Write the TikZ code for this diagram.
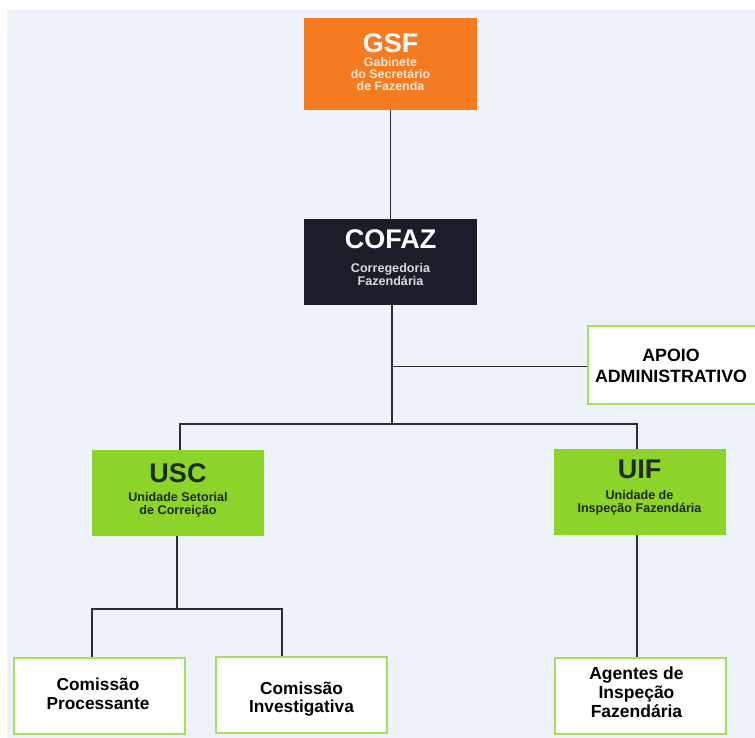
\documentclass[tikz,border=0pt]{standalone}
\usepackage{fontspec}
\setmainfont{Liberation Sans}
\definecolor{bgc}{HTML}{EEF2FA}
\definecolor{gsfc}{HTML}{F47B20}
\definecolor{navy}{HTML}{1A1E2B}
\definecolor{lime}{HTML}{8DD42A}
\definecolor{limeb}{HTML}{A6DE62}
\definecolor{linec}{HTML}{2E2E30}
\definecolor{subgsf}{HTML}{FBE6D6}
\definecolor{subcof}{HTML}{D9DADC}
\definecolor{darkt}{HTML}{1E2A12}
\begin{document}
\begin{tikzpicture}[x=1pt,y=-1pt,
  topbox/.style={minimum width=173pt, inner sep=0pt, draw=none},
  greenbox/.style={minimum width=172pt, minimum height=86pt, inner sep=0pt, fill=lime, draw=none},
  whitebox/.style={minimum width=171pt, minimum height=76pt, inner sep=0pt, fill=white, draw=limeb, line width=2pt},
  ttl/.style={font=\bfseries\fontsize{27}{27}\selectfont, inner sep=0pt, anchor=base, text depth=0pt},
  sub/.style={font=\bfseries\fontsize{12.6}{12.2}\selectfont, inner sep=0pt, align=center, anchor=north},
  wtxt/.style={font=\bfseries\fontsize{17.3}{18.5}\selectfont, inner sep=0pt, align=center, text=black},
  thin/.style={draw=linec, line width=1.4pt},
  thick/.style={draw=linec, line width=2.6pt, line join=miter}]
\useasboundingbox (0,0) rectangle (755,738);
\fill[bgc] (7,10) rectangle (755,738);

% boxes
\node[topbox, fill=gsfc, minimum height=92pt] (gsf) at (390.5,64) {};
\node[topbox, fill=navy, minimum height=86pt] (cofaz) at (390.5,262) {};
\node[greenbox] (usc) at (178,493) {};
\node[greenbox] (uif) at (639.5,492) {};
\node[whitebox, minimum width=180pt, minimum height=78pt] (apoio) at (678,364.5) {};
\node[whitebox] (cp) at (99,696) {};
\node[whitebox] (ci) at (301.5,695) {};
\node[whitebox] (ag) at (640.5,696) {};

% texts
\node[ttl, text=white] (gsft) at (390.5,53) {GSF};
\node[sub, text=subgsf, font=\bfseries\fontsize{12.4}{11.6}\selectfont] (gsfs) at (390.5,57.8) {Gabinete\\do Secretário\\de Fazenda};
\node[ttl, text=white] (coft) at (390.5,248) {COFAZ};
\node[sub, text=subcof] (cofs) at (390.5,263.5) {Corregedoria\\Fazendária};
\node[ttl, text=darkt] (usct) at (178,482) {USC};
\node[sub, text=darkt] (uscs) at (178,492.5) {Unidade Setorial\\de Correição};
\node[ttl, text=darkt] (uift) at (639.5,478) {UIF};
\node[sub, text=darkt] (uifs) at (639.5,490.5) {Unidade de\\Inspeção Fazendária};
\node[wtxt, font=\bfseries\fontsize{17.8}{21}\selectfont] (apoiot) at (671,366) {APOIO\\ADMINISTRATIVO};
\node[wtxt] (cpt) at (98,694) {Comissão\\Processante};
\node[wtxt] (cit) at (301.5,699) {Comissão\\Investigativa};
\node[wtxt, font=\bfseries\fontsize{17.5}{19}\selectfont] (agt) at (636.5,692) {Agentes de\\Inspeção\\Fazendária};

% connectors
\coordinate (hub) at (392,424);
\coordinate (cofb) at (392,305);
\coordinate (apj) at (392,366.5);
\coordinate (ul) at (180,424);
\coordinate (ur) at (637,424);
\coordinate (uscb) at (177,536);
\coordinate (pm) at (177,609);
\coordinate (pl) at (92,609);
\coordinate (pr) at (282,609);

\draw[thin] (gsf.south) -- (cofaz.north);
\draw[thin] (cofb) -- (hub);
\draw[thin] (apj) -- (apoio.west |- apj);
\draw[thick] (usc.north -| ul) -- (ul) -- (ur) -- (uif.north -| ur);
\draw[thin] (uscb) -- (pm);
\draw[thick] (cp.north -| pl) -- (pl) -- (pr) -- (ci.north -| pr);
\draw[thin] (uif.south -| ur) -- (ag.north -| ur);
\end{tikzpicture}
\end{document}
